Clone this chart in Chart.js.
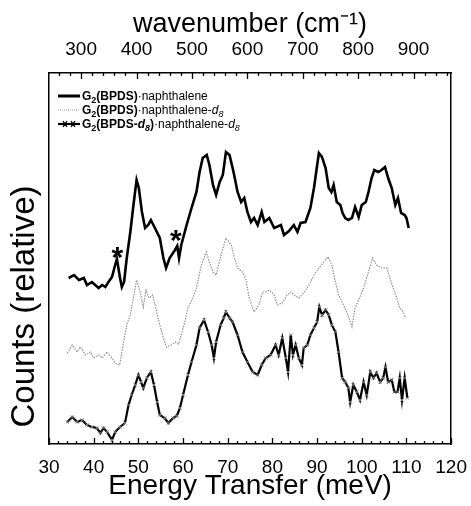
<!DOCTYPE html>
<html><head><meta charset="utf-8">
<script src="https://cdn.jsdelivr.net/npm/chart.js@4.4.1/dist/chart.umd.min.js"></script>
<style>
html,body{margin:0;padding:0;background:#fff;}
#wrap{position:relative;width:471px;height:506px;}
#legend{position:absolute;left:57px;top:89px;font-family:"Liberation Sans",Arial,sans-serif;font-size:12px;color:#000;}
.row{height:14px;line-height:14px;white-space:nowrap;display:flex;align-items:center;}
.row svg{margin-right:1px;flex:none;}
.sub{font-size:9px;position:relative;top:3px;}
</style></head><body>
<div id="wrap"><canvas id="c" width="471" height="506"></canvas>
<div id="legend">
 <div class="row"><svg width="24" height="14"><line x1="1" y1="7" x2="23" y2="7" stroke="#000" stroke-width="3"/></svg><span><b>G</b><span class="sub"><b>2</b></span><b>(BPDS)</b>·naphthalene</span></div>
 <div class="row"><svg width="24" height="14"><line x1="1" y1="7" x2="23" y2="7" stroke="#999" stroke-width="1.2" stroke-dasharray="1 1"/></svg><span><b>G</b><span class="sub"><b>2</b></span><b>(BPDS)</b>·naphthalene-<i>d</i><span class="sub"><i>8</i></span></span></div>
 <div class="row"><svg width="24" height="14"><line x1="1" y1="7" x2="23" y2="7" stroke="#000" stroke-width="2.2"/><path d="M6 4 L10 10 M10 4 L6 10 M14 4 L18 10 M18 4 L14 10" stroke="#000" stroke-width="1.3"/></svg><span><b>G</b><span class="sub"><b>2</b></span><b>(BPDS-<i>d</i></b><span class="sub"><b><i>8</i></b></span><b>)</b>·naphthalene-<i>d</i><span class="sub"><i>8</i></span></span></div>
</div>
</div>
<script>
// ---- data (energy transfer in meV, counts in relative units) ----
const energyTicks = [30,40,50,60,70,80,90,100,110,120];
const wavenumberTicks = [300,400,500,600,700,800,900];
const MEV_TO_CM = 8.0655;

const energy1 = [34.4,35.6,36.7,37.8,38.5,39.6,41.1,41.9,42.6,43.3,44.1,44.8,45.2,45.9,46.3,46.8,47.4,48.2,48.9,49.6,50.1,50.8,51.5,52.2,52.8,53.7,54.8,55.6,56.2,57.0,58.2,58.7,59.1,59.6,60.8,61.9,63.0,63.7,64.4,65.3,65.9,66.7,67.4,68.2,68.9,69.6,70.4,71.3,72.2,73.0,73.7,74.4,75.2,75.9,76.7,77.6,78.2,79.3,80.4,81.9,82.6,83.7,84.8,85.6,86.3,87.4,88.5,89.3,89.8,90.4,91.1,91.9,92.6,93.2,93.7,94.4,95.2,95.7,96.3,97.0,97.8,98.5,99.3,100.0,100.9,101.5,102.2,102.8,103.7,104.4,105.2,105.9,106.7,107.5,108.1,108.8,109.6,110.0,110.5];
const counts1 = [16.6,16.9,16.4,16.6,15.9,16.2,15.6,15.9,15.7,16.2,16.7,17.9,18.5,16.6,15.7,16.2,18.6,21.2,23.9,26.4,25.6,23.2,21.6,21.9,22.4,21.6,20.6,18.6,17.6,18.6,19.4,19.8,18.6,19.9,21.9,23.6,25.2,27.2,28.6,28.9,27.9,25.9,24.9,26.2,26.9,29.2,28.9,27.2,25.2,24.2,24.6,23.2,22.2,22.6,21.9,23.2,22.2,22.6,21.6,21.9,20.9,21.3,21.9,21.2,22.1,22.2,23.6,25.6,27.2,29.1,28.7,27.6,25.6,25.2,25.9,24.2,23.9,23.1,22.6,22.4,22.6,23.7,22.7,23.9,24.2,25.2,26.6,27.4,27.2,27.4,27.7,26.6,25.6,23.9,24.6,23.1,22.9,22.6,21.6];

const energy2 = [34.1,35.2,36.3,37.0,38.2,39.3,40.0,41.1,41.9,43.0,44.1,44.8,45.8,46.7,47.4,48.2,48.9,49.6,50.4,51.1,51.7,52.4,53.2,54.1,54.8,55.6,56.3,57.4,58.2,59.0,60.4,61.1,62.2,63.0,64.1,65.2,65.9,66.7,67.4,68.5,69.6,70.8,71.5,72.2,73.3,74.1,74.8,75.9,77.0,77.8,78.5,79.3,80.4,81.1,82.2,83.3,84.2,84.8,85.9,87.0,88.2,89.3,90.4,91.5,92.4,93.3,94.1,94.8,95.9,96.9,97.8,98.5,99.3,100.4,101.5,102.4,103.3,104.4,105.6,106.3,107.0,107.8,108.5,109.3,109.8];
const counts2 = [9.1,9.9,9.2,9.7,8.9,9.2,8.6,8.9,8.6,9.2,8.6,8.1,7.9,10.2,11.9,12.9,14.6,16.4,15.2,13.7,15.4,14.6,14.9,13.2,11.9,10.6,9.7,9.9,10.2,10.0,12.2,13.6,14.6,15.6,17.9,19.2,18.2,17.2,16.9,18.9,20.6,19.9,18.6,17.6,17.2,16.4,14.6,13.2,13.9,15.2,15.2,15.4,14.9,13.9,14.1,14.9,15.2,14.9,14.6,15.1,15.9,16.9,17.6,18.2,18.7,17.9,16.2,14.9,13.9,12.9,11.7,13.6,14.4,15.6,17.2,18.6,17.9,17.6,17.6,16.6,15.6,14.6,13.6,13.2,12.6];

const energy3 = [34.1,35.2,36.3,37.4,38.5,39.6,40.7,41.5,42.2,43.0,44.1,44.8,45.9,47.0,47.8,48.5,49.3,50.0,50.6,51.1,51.9,52.8,53.5,54.2,54.8,55.9,56.7,57.8,58.6,59.3,60.0,61.1,61.9,63.0,63.7,64.7,65.6,66.4,66.9,67.4,68.4,69.1,69.6,70.4,71.1,72.2,73.3,74.4,75.6,76.7,77.6,78.5,79.6,80.7,81.4,82.2,83.0,83.5,84.1,84.6,85.2,85.9,86.6,87.0,87.8,88.5,89.3,90.0,90.5,91.1,91.9,92.6,93.3,94.1,94.8,95.6,96.3,97.0,97.4,98.1,98.9,99.6,100.4,101.1,101.9,102.6,103.3,104.1,104.8,105.3,105.9,106.7,107.3,108.0,108.5,109.0,109.6,110.2];
const counts3 = [2.2,2.7,2.2,2.4,1.9,1.7,1.6,1.1,1.6,1.2,0.4,1.2,1.7,2.1,3.9,4.9,5.9,6.9,6.2,5.6,6.6,7.2,5.9,4.2,2.9,2.6,2.1,2.6,2.8,3.6,4.9,6.9,8.2,9.9,11.6,12.4,11.2,9.9,8.6,10.2,11.9,12.6,13.2,12.6,12.2,10.9,9.2,8.2,7.2,6.9,7.9,8.6,8.9,9.9,8.9,10.6,8.6,7.2,10.9,8.9,9.9,8.6,7.9,9.6,9.9,10.9,11.6,12.2,13.7,12.9,13.4,12.9,11.9,11.2,9.2,6.6,6.2,5.6,4.2,5.9,5.2,4.4,6.2,4.9,7.2,6.6,7.1,6.2,6.6,7.7,6.2,6.4,5.2,5.2,6.6,4.4,6.6,4.6];

const starEnergy = [45.3, 58.4];
const starCounts = [19.2, 20.9];

const seriesLabels = ['G2(BPDS)·naphthalene','G2(BPDS)·naphthalene-d8','G2(BPDS-d8)·naphthalene-d8'];

const toXY = (xs, ys) => xs.map((x, i) => ({x: x, y: ys[i]}));
const FONT = '"Liberation Sans", Arial, Helvetica, sans-serif';

const inwardTicks = {
  id: 'inwardTicks',
  afterDraw(chart) {
    const {ctx, chartArea: a, scales} = chart;
    ctx.save();
    ctx.strokeStyle = '#000';
    ctx.lineWidth = 1.3;
    ctx.beginPath();
    const xs = scales.x;
    for (let v = xs.min; v <= xs.max + 1e-6; v += 2) {
      const px = Math.round(xs.getPixelForValue(v)) + 0.5;
      const L = (Math.round(v) % 10 === 0) ? 6 : 3;
      ctx.moveTo(px, a.bottom); ctx.lineTo(px, a.bottom - L);
    }
    const xt = scales.x2;
    for (let v = 260; v <= xt.max; v += 20) {
      const px = Math.round(xt.getPixelForValue(v)) + 0.5;
      const L = (v % 100 === 0) ? 6 : 3;
      ctx.moveTo(px, a.top); ctx.lineTo(px, a.top + L);
    }
    ctx.stroke();
    // asterisks
    ctx.fillStyle = '#000';
    ctx.font = 'bold 30px ' + FONT;
    ctx.textAlign = 'center';
    ctx.textBaseline = 'middle';
    for (let i = 0; i < starEnergy.length; i++) {
      ctx.fillText('*', scales.x.getPixelForValue(starEnergy[i]), scales.y.getPixelForValue(starCounts[i]) + 7);
    }
    // y title
    ctx.font = '33px ' + FONT;
    ctx.translate(25, (a.top + a.bottom) / 2 + 48);
    ctx.rotate(-Math.PI / 2);
    ctx.fillText('Counts (relative)', 0, 0);
    ctx.restore();
  }
};

new Chart(document.getElementById('c'), {
  type: 'line',
  data: {
    datasets: [
      {label: seriesLabels[0], data: toXY(energy1, counts1), borderColor: '#000', borderWidth: 2.6, pointRadius: 0, tension: 0},
      {label: seriesLabels[1], data: toXY(energy2, counts2), borderColor: '#8a8a8a', borderWidth: 1.1, borderDash: [1.5, 1.2], pointRadius: 0, tension: 0},
      {label: seriesLabels[2], data: toXY(energy3, counts3), borderColor: '#000', borderWidth: 2.2, pointStyle: 'crossRot', pointRadius: 2.2, pointBorderColor: '#777', pointBorderWidth: 1, tension: 0}
    ]
  },
  options: {
    responsive: false,
    devicePixelRatio: 1,
    animation: false,
    layout: {padding: {left: 0, right: 18, top: 0, bottom: 0}},
    plugins: {legend: {display: false}, tooltip: {enabled: false}},
    scales: {
      x: {
        type: 'linear', position: 'bottom', min: 30, max: 120,
        afterBuildTicks: s => { s.ticks = energyTicks.map(v => ({value: v})); },
        afterFit: s => { s.height = 62; },
        grid: {display: false},
        border: {display: true, color: '#000', width: 1.5},
        ticks: {color: '#000', font: {family: FONT, size: 19}, padding: 4, maxRotation: 0, autoSkip: false},
        title: {display: true, text: 'Energy Transfer (meV)', color: '#000', font: {family: FONT, size: 28}, padding: {top: 0, bottom: 3}}
      },
      x2: {
        type: 'linear', position: 'top', axis: 'x', min: 30 * MEV_TO_CM, max: 120 * MEV_TO_CM,
        afterBuildTicks: s => { s.ticks = wavenumberTicks.map(v => ({value: v})); },
        afterFit: s => { s.height = 73; },
        grid: {display: false},
        border: {display: true, color: '#000', width: 1.5},
        ticks: {color: '#000', font: {family: FONT, size: 19}, padding: 4, maxRotation: 0, autoSkip: false},
        title: {display: true, text: 'wavenumber (cm⁻¹)', color: '#000', font: {family: FONT, size: 27}, padding: {top: 8, bottom: 0}}
      },
      y: {
        type: 'linear', position: 'left', min: 0, max: 37.1,
        afterFit: s => { s.width = 49; },
        grid: {display: false},
        border: {display: true, color: '#000', width: 1.5},
        ticks: {display: false}
      },
      y2: {
        type: 'linear', position: 'right', axis: 'y', min: 0, max: 1,
        afterFit: s => { s.width = 0; },
        grid: {display: false},
        border: {display: true, color: '#000', width: 1.5},
        ticks: {display: false}
      }
    }
  },
  plugins: [inwardTicks]
});
</script>
</body></html>
